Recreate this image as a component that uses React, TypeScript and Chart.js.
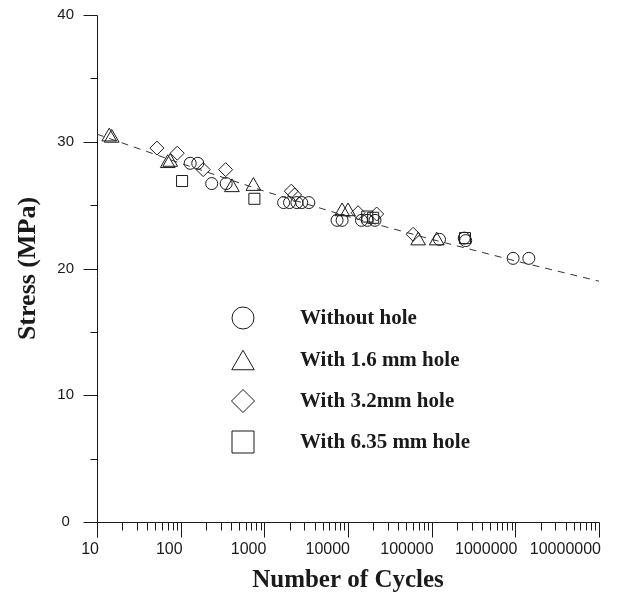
import React, { useEffect, useRef } from 'react';
import { Chart, registerables } from 'chart.js';
Chart.register(...registerables);

// ---- Data ----
const withoutHoleCycles = [130, 160, 235, 350, 1700, 2000, 2450, 2800, 3400, 7400, 8500, 14500, 17000, 21000, 124000, 245000, 255000, 940000, 1450000];
const withoutHoleStress = [28.3, 28.3, 26.7, 26.7, 25.2, 25.2, 25.2, 25.2, 25.2, 23.8, 23.8, 23.8, 23.8, 23.8, 22.3, 22.4, 22.2, 20.8, 20.8];

const hole16Cycles = [14, 15, 70, 75, 410, 740, 8500, 10000, 69000, 115000];
const hole16Stress = [30.4, 30.3, 28.3, 28.4, 26.4, 26.5, 24.5, 24.5, 22.2, 22.2];

const hole32Cycles = [52, 91, 186, 345, 2100, 2300, 13200, 22000, 60000];
const hole32Stress = [29.5, 29.1, 27.8, 27.8, 26.1, 25.8, 24.4, 24.3, 22.7];

const hole635Cycles = [104, 760, 17000, 20000, 250000];
const hole635Stress = [26.9, 25.5, 24.1, 24.0, 22.4];

const trendCycles = [10, 100, 1000, 10000, 100000, 1000000, 10000000];
const trendStress = [30.6, 28.3, 26.1, 24.1, 22.3, 20.6, 19.0];

const legendLabels = ['Without hole', 'With 1.6 mm hole', 'With 3.2mm hole', 'With 6.35 mm hole'];
const legendShapes = ['circle', 'triangle', 'diamond', 'square'];

const xTickValues = [10, 100, 1000, 10000, 100000, 1000000, 10000000];
const yTickValues = [0, 10, 20, 30, 40];

const INK = '#1a1a1a';
const SANS = '"Liberation Sans", Arial, sans-serif';
const SERIF = '"Liberation Serif", "Times New Roman", serif';

const toPoints = (xs: number[], ys: number[]) => xs.map((x, i) => ({ x, y: ys[i] }));

function drawShape(ctx: CanvasRenderingContext2D, shape: string, x: number, y: number, r: number) {
  ctx.beginPath();
  if (shape === 'circle') {
    ctx.arc(x, y, r, 0, Math.PI * 2);
  } else if (shape === 'triangle') {
    const h = r * 1.5;
    const w = r * 1.732;
    ctx.moveTo(x, y - h / 2);
    ctx.lineTo(x + w / 2, y + h / 2);
    ctx.lineTo(x - w / 2, y + h / 2);
    ctx.closePath();
  } else if (shape === 'diamond') {
    ctx.moveTo(x, y - r);
    ctx.lineTo(x + r, y);
    ctx.lineTo(x, y + r);
    ctx.lineTo(x - r, y);
    ctx.closePath();
  } else {
    ctx.rect(x - r, y - r, 2 * r, 2 * r);
  }
  ctx.stroke();
}

const zeroPad = (s: any) => {
  s.paddingTop = 0;
  s.paddingBottom = 0;
  s.paddingLeft = 0;
  s.paddingRight = 0;
};

const axesPlugin = {
  id: 'customAxes',
  beforeDatasetsDraw(chart: any) {
    const { ctx, chartArea } = chart;
    const xs = chart.scales.x;
    const ys = chart.scales.y;
    ctx.save();
    ctx.strokeStyle = INK;
    ctx.lineWidth = 1;
    const L = Math.round(chartArea.left) + 0.5;
    const B = Math.round(chartArea.bottom) + 0.5;
    ctx.beginPath();
    ctx.moveTo(L, Math.round(chartArea.top) + 0.5);
    ctx.lineTo(L, B + 15);
    ctx.moveTo(L, B);
    ctx.lineTo(Math.round(chartArea.right) + 0.5, B);
    for (let v = 0; v <= 40; v += 5) {
      const py = Math.round(ys.getPixelForValue(v)) + 0.5;
      const len = v % 10 === 0 ? 14 : 7;
      ctx.moveTo(L - len, py);
      ctx.lineTo(L, py);
    }
    for (let e = 1; e <= 7; e++) {
      for (let m = 1; m <= 9; m++) {
        const val = m * Math.pow(10, e);
        if (val > 1e7) break;
        const px = Math.round(xs.getPixelForValue(val)) + 0.5;
        const len = m === 1 ? 15 : 8;
        ctx.moveTo(px, B);
        ctx.lineTo(px, B + len);
      }
    }
    ctx.stroke();
    ctx.restore();
  },
  afterDraw(chart: any) {
    const { ctx } = chart;
    ctx.save();
    ctx.strokeStyle = INK;
    ctx.lineWidth = 1;
    const symX = 243;
    const textX = 300;
    const rows = [318, 360, 401, 442];
    const sizes = [11, 13, 11.5, 11];
    legendLabels.forEach((label, i) => {
      drawShape(ctx, legendShapes[i], symX, rows[i], sizes[i]);
      ctx.fillStyle = INK;
      ctx.font = `bold 21px ${SERIF}`;
      ctx.textBaseline = 'middle';
      ctx.textAlign = 'left';
      ctx.fillText(label, textX, rows[i] + 1);
    });
    ctx.restore();
  },
};

export default function App() {
  const canvasRef = useRef<HTMLCanvasElement | null>(null);

  useEffect(() => {
    const canvas = canvasRef.current;
    if (!canvas) return;
    const markerCommon = {
      showLine: false,
      borderColor: INK,
      backgroundColor: 'rgba(0,0,0,0)',
      borderWidth: 1,
      pointBorderWidth: 1,
    };
    const chart = new Chart(canvas, {
      type: 'scatter',
      data: {
        datasets: [
          {
            label: 'trend',
            data: toPoints(trendCycles, trendStress),
            showLine: true,
            borderColor: '#333',
            borderWidth: 1,
            borderDash: [7, 6],
            pointRadius: 0,
            fill: false,
          },
          { label: legendLabels[0], data: toPoints(withoutHoleCycles, withoutHoleStress), pointStyle: 'circle', pointRadius: 6, ...markerCommon },
          { label: legendLabels[1], data: toPoints(hole16Cycles, hole16Stress), pointStyle: 'triangle', pointRadius: 8.5, ...markerCommon },
          { label: legendLabels[2], data: toPoints(hole32Cycles, hole32Stress), pointStyle: 'rectRot', pointRadius: 7, ...markerCommon },
          { label: legendLabels[3], data: toPoints(hole635Cycles, hole635Stress), pointStyle: 'rect', pointRadius: 7.8, ...markerCommon },
        ],
      },
      options: {
        animation: false,
        responsive: false,
        devicePixelRatio: 1,
        layout: { padding: { left: 0, right: 37, top: 15, bottom: 0 } },
        plugins: { legend: { display: false }, tooltip: { enabled: false } },
        scales: {
          x: {
            type: 'logarithmic',
            min: 10,
            max: 10000000,
            grid: { display: false, drawTicks: false, tickLength: 0 },
            border: { display: false },
            afterFit: (s: any) => { s.height = 74; zeroPad(s); },
            afterBuildTicks: (s: any) => { s.ticks = xTickValues.map((v) => ({ value: v })); },
            ticks: {
              autoSkip: false,
              maxRotation: 0,
              align: 'end',
              labelOffset: 2,
              padding: 18,
              color: INK,
              font: { family: SANS, size: 16 },
              callback: (v: any) => String(v),
            },
            title: {
              display: true,
              text: 'Number of Cycles',
              color: INK,
              font: { family: SERIF, size: 25, weight: 'bold', lineHeight: 1 },
              padding: { top: 0, bottom: 3 },
            },
          },
          y: {
            type: 'linear',
            min: 0,
            max: 40,
            grid: { display: false, drawTicks: false, tickLength: 0 },
            border: { display: false },
            afterFit: (s: any) => { s.width = 97; zeroPad(s); },
            afterBuildTicks: (s: any) => { s.ticks = yTickValues.map((v) => ({ value: v })); },
            ticks: {
              padding: 23,
              crossAlign: 'center',
              color: INK,
              font: { family: SANS, size: 15 },
            },
            title: {
              display: true,
              text: 'Stress (MPa)',
              color: INK,
              font: { family: SERIF, size: 26, weight: 'bold', lineHeight: 1 },
              padding: { top: 15, bottom: 0 },
            },
          },
        },
      },
      plugins: [axesPlugin],
    } as any);
    return () => chart.destroy();
  }, []);

  return (
    <div style={{ position: 'absolute', left: 0, top: 0, width: 636, height: 596, background: '#fff' }}>
      <canvas ref={canvasRef} width={636} height={596} />
    </div>
  );
}
